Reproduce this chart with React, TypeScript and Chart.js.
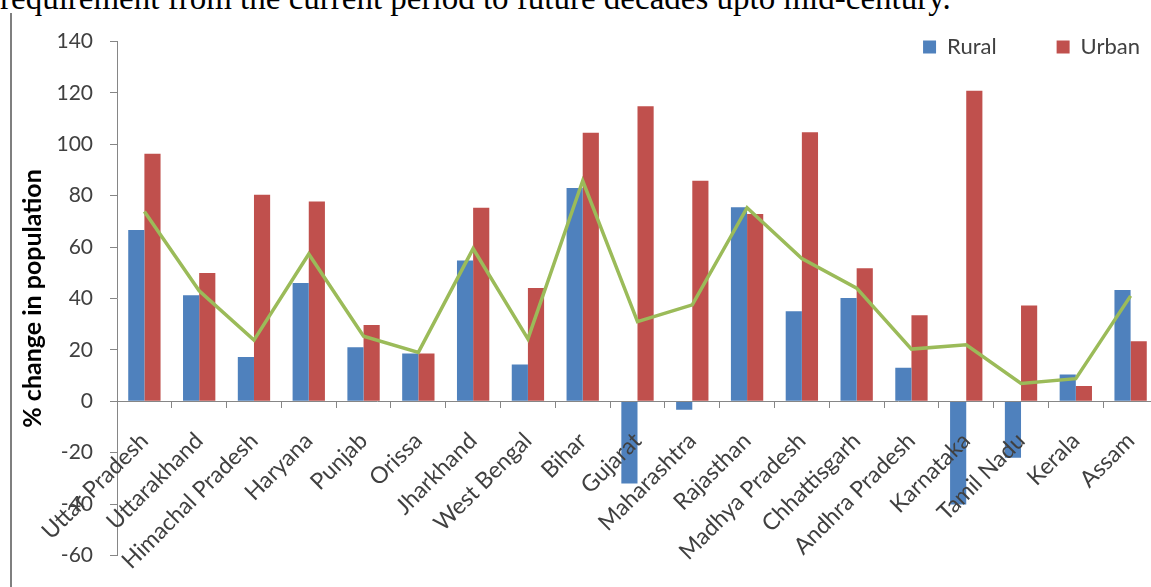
import React, { useEffect, useRef } from 'react';
import { Chart, registerables } from 'chart.js';

Chart.register(...registerables);

const categories = [
  'Uttar Pradesh', 'Uttarakhand', 'Himachal Pradesh', 'Haryana', 'Punjab', 'Orissa',
  'Jharkhand', 'West Bengal', 'Bihar', 'Gujarat', 'Maharashtra', 'Rajasthan',
  'Madhya Pradesh', 'Chhattisgarh', 'Andhra Pradesh', 'Karnataka', 'Tamil Nadu', 'Kerala', 'Assam',
];
const rural = [66.6, 41.2, 17.2, 46, 21, 18.6, 54.8, 14.3, 83, -32, -3.3, 75.5, 35, 40.2, 13, -40.2, -22, 10.4, 43.3];
const urban = [96.3, 49.9, 80.4, 77.7, 29.7, 18.6, 75.3, 44.1, 104.5, 114.8, 85.8, 72.9, 104.7, 51.8, 33.5, 120.8, 37.3, 5.9, 23.3];
const total = [73.8, 43, 23.8, 57.3, 25.3, 19, 59.4, 24.3, 85.8, 31, 37.5, 75.3, 55.5, 44, 20.3, 22, 6.9, 8.8, 41];
const yMin = -60;
const yMax = 140;
const yStep = 20;
const headline = 'requirement from the current period to future decades upto mid-century.';

// lets the legend (which sits just above the plot area) draw its row over the plot's top edge
const legendOverflow = {
  id: 'legendOverflow',
  afterLayout(chart: any) {
    const lg = chart.legend;
    if (lg) {
      lg.bottom = lg.top + 120;
      lg.height = 120;
    }
  },
};

export default function App() {
  const ref = useRef<HTMLCanvasElement>(null);

  useEffect(() => {
    if (!ref.current) return;
    const grey = '#868686';
    const chart = new Chart(ref.current, {
      type: 'bar',
      data: {
        labels: categories,
        datasets: [
          {
            type: 'line',
            label: 'Total',
            data: total,
            borderColor: '#9BBB59',
            backgroundColor: '#9BBB59',
            borderWidth: 3.5,
            pointRadius: 0,
            tension: 0,
            fill: false,
            order: 0,
          } as any,
          {
            label: 'Rural',
            data: rural,
            backgroundColor: '#4F81BD',
            borderWidth: 0,
            categoryPercentage: 0.59,
            barPercentage: 1,
            order: 1,
          },
          {
            label: 'Urban',
            data: urban,
            backgroundColor: '#C0504D',
            borderWidth: 0,
            categoryPercentage: 0.59,
            barPercentage: 1,
            order: 1,
          },
        ],
      },
      options: {
        animation: false,
        responsive: true,
        maintainAspectRatio: false,
        devicePixelRatio: 1,
        events: [],
        layout: { padding: { top: 0, left: 0, right: 0, bottom: 20 } },
        plugins: {
          tooltip: { enabled: false },
          legend: {
            display: true,
            position: 'top',
            align: 'end',
            maxHeight: 65.5,
            labels: {
              boxWidth: 13,
              boxHeight: 13,
              padding: 60,
              color: '#404040',
              font: { family: 'Lato', size: 22 },
              filter: (item: any) => item.text !== 'Total',
            },
          },
        },
        scales: {
          x: {
            type: 'category',
            position: { y: 0 } as any,
            offset: true,
            grid: {
              display: true,
              offset: true,
              drawOnChartArea: false,
              drawTicks: true,
              tickLength: 6,
              color: grey,
              z: 1,
            },
            border: { display: true, color: grey, width: 1, z: 1 },
            ticks: {
              autoSkip: false,
              minRotation: 45,
              maxRotation: 45,
              padding: 20,
              color: '#404040',
              font: { family: 'Lato', size: 23 },
              z: 1,
            },
          },
          y: {
            type: 'linear',
            position: 'left',
            min: yMin,
            max: yMax,
            ticks: {
              stepSize: yStep,
              padding: 17,
              color: '#404040',
              font: { family: 'Lato', size: 21 },
            },
            grid: {
              display: true,
              drawOnChartArea: false,
              drawTicks: true,
              tickLength: 7,
              color: grey,
            },
            border: { display: true, color: grey, width: 1 },
            title: {
              display: true,
              text: '% change in population',
              color: '#000000',
              font: { family: 'Lato', size: 25, weight: 'bold' },
              padding: { top: 18, bottom: 0 },
            },
            afterFit: (s: any) => {
              s.width = 117;
            },
          },
          yRight: {
            type: 'linear',
            position: 'right',
            display: true,
            grid: { display: false, drawTicks: false },
            border: { display: false },
            ticks: { display: false },
            afterFit: (s: any) => {
              s.width = 42;
            },
          },
        },
      } as any,
      plugins: [legendOverflow],
    });
    return () => chart.destroy();
  }, []);

  return (
    <div
      style={{
        position: 'fixed',
        left: 0,
        top: 0,
        width: 1151,
        height: 587,
        overflow: 'hidden',
        background: '#ffffff',
      }}
    >
      <div
        style={{
          position: 'absolute',
          left: 0,
          top: -18,
          fontFamily: '"Liberation Serif", serif',
          fontSize: 33,
          lineHeight: '33px',
          whiteSpace: 'nowrap',
          color: '#000',
        }}
      >
        {headline}
      </div>
      <div
        style={{
          position: 'absolute',
          left: 10,
          top: 13,
          width: 2,
          height: 580,
          background: '#7f7f7f',
        }}
      />
      <div style={{ position: 'absolute', left: 0, top: -24, width: 1200, height: 609 }}>
        <canvas ref={ref} />
      </div>
    </div>
  );
}
